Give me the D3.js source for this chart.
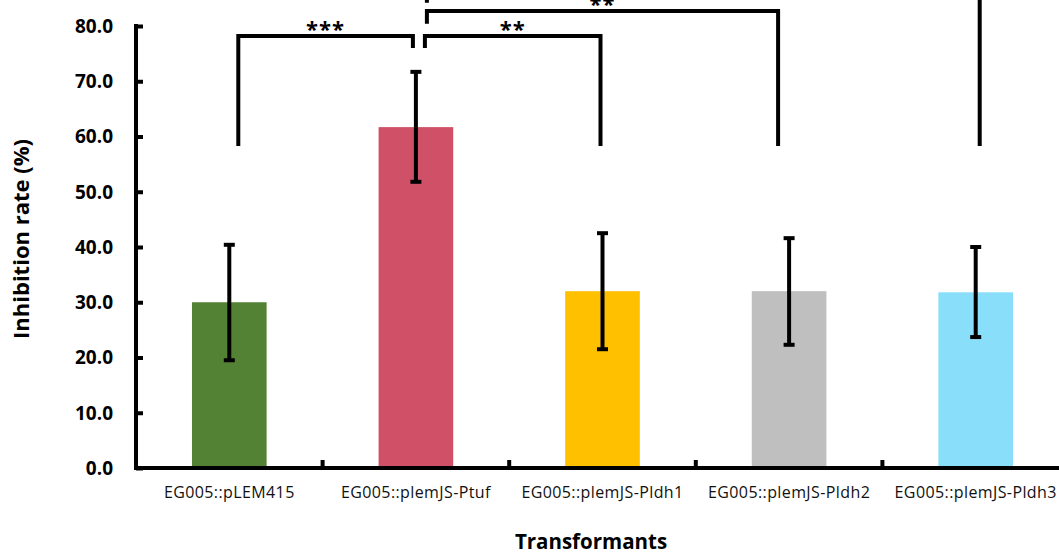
<!DOCTYPE html>
<html>
<head>
<meta charset="utf-8">
<script src="https://cdn.jsdelivr.net/npm/d3@7"></script>
<style>
  body { margin: 0; background: #fff; }
  svg { display: block; font-family: "Open Sans", "Noto Sans", sans-serif; }
</style>
</head>
<body>
<div id="chart"></div>
<script>
// data
const categories = ['EG005::pLEM415', 'EG005::plemJS-Ptuf', 'EG005::plemJS-Pldh1', 'EG005::plemJS-Pldh2', 'EG005::plemJS-Pldh3'];
const values = [30.0, 61.7, 32.0, 32.0, 31.8];
const errLow = [19.5, 51.8, 21.5, 22.3, 23.7];
const errHigh = [40.4, 71.7, 42.5, 41.6, 40.0];
const barColors = ['#548235', '#d05167', '#ffc000', '#bfbfbf', '#89def9'];
const yTicks = [0, 10, 20, 30, 40, 50, 60, 70, 80];

// significance brackets: from/to category index, bar level, leg ends, label
const brackets = [
	{ from: 0, to: 1, level: 78.2, legFrom: 58.3, legTo: 76.0, dxFrom: 9, dxTo: -3, label: '***' },
	{ from: 1, to: 2, level: 78.2, legFrom: 76.0, legTo: 58.3, dxFrom: 9, dxTo: -2, label: '**' },
	{ from: 1, to: 3, level: 82.7, legFrom: 80.4, legTo: 58.3, dxFrom: 11, dxTo: -11, label: '**' },
	{ from: 1, to: 4, level: 87.2, legFrom: 84.2, legTo: 58.3, dxFrom: 11, dxTo: 4, label: '**' }
];

const width = 1059, height = 554;
const margin = { left: 136, right: -10, top: 26, bottom: 86 };

const svg = d3.select('#chart').append('svg')
	.attr('width', width)
	.attr('height', height);

const x = d3.scaleBand()
	.domain(categories)
	.range([margin.left, width - margin.right])
	.paddingInner(0)
	.paddingOuter(0);

const y = d3.scaleLinear()
	.domain([0, 80])
	.range([height - margin.bottom, margin.top]);

const barW = x.bandwidth() * 0.4;
const cx = i => x(categories[i]) + x.bandwidth() / 2;

// bars
svg.selectAll('rect.bar')
	.data(values)
	.enter().append('rect')
	.attr('class', 'bar')
	.attr('x', (d, i) => cx(i) - barW / 2)
	.attr('y', d => y(d))
	.attr('width', barW)
	.attr('height', d => y(0) - y(d))
	.attr('fill', (d, i) => barColors[i]);

// error bars
const capW = 11;
const err = svg.append('g').attr('stroke', '#000').attr('stroke-width', 4);
values.forEach((v, i) => {
	err.append('line')
		.attr('x1', cx(i)).attr('x2', cx(i))
		.attr('y1', y(errLow[i])).attr('y2', y(errHigh[i]));
	[errLow[i], errHigh[i]].forEach(e => {
		err.append('line')
			.attr('x1', cx(i) - capW / 2).attr('x2', cx(i) + capW / 2)
			.attr('y1', y(e)).attr('y2', y(e));
	});
});

// y axis
const yAxis = svg.append('g')
	.attr('transform', `translate(${margin.left},0)`)
	.call(d3.axisRight(y).tickValues(yTicks).tickSize(7).tickFormat(''));
yAxis.select('.domain').remove();
yAxis.selectAll('line').attr('stroke', '#000').attr('stroke-width', 4);
svg.append('line')
	.attr('x1', margin.left).attr('x2', margin.left)
	.attr('y1', y(80) - 2).attr('y2', y(0) + 2)
	.attr('stroke', '#000').attr('stroke-width', 4);

svg.selectAll('text.ytick')
	.data(yTicks)
	.enter().append('text')
	.attr('class', 'ytick')
	.attr('x', 113)
	.attr('y', d => y(d))
	.attr('dy', '0.36em')
	.attr('text-anchor', 'end')
	.attr('font-size', 19)
	.attr('font-weight', 'bold')
	.text(d => d.toFixed(1));

// x axis
const xAxis = svg.append('g')
	.attr('transform', `translate(0,${y(0)})`);
xAxis.append('line')
	.attr('x1', margin.left - 2).attr('x2', width)
	.attr('y1', 0).attr('y2', 0)
	.attr('stroke', '#000').attr('stroke-width', 4);
xAxis.selectAll('line.xtick')
	.data(categories.slice(1))
	.enter().append('line')
	.attr('class', 'xtick')
	.attr('x1', d => x(d)).attr('x2', d => x(d))
	.attr('y1', 0).attr('y2', -8)
	.attr('stroke', '#000').attr('stroke-width', 4);

svg.selectAll('text.xlab')
	.data(categories)
	.enter().append('text')
	.attr('class', 'xlab')
	.attr('x', (d, i) => cx(i))
	.attr('y', 498)
	.attr('text-anchor', 'middle')
	.attr('font-size', 16)
	.attr('letter-spacing', 0.4)
	.attr('fill', '#111')
	.text(d => d);

// axis titles
svg.append('text')
	.attr('x', 591)
	.attr('y', 549)
	.attr('text-anchor', 'middle')
	.attr('font-size', 20.5)
	.attr('font-weight', 'bold')
	.text('Transformants');

svg.append('text')
	.attr('transform', `translate(29,239) rotate(-90)`)
	.attr('text-anchor', 'middle')
	.attr('font-size', 22)
	.attr('font-weight', 'bold')
	.text('Inhibition rate (%)');

// significance brackets
const br = svg.append('g');
brackets.forEach(b => {
	const x1 = cx(b.from) + b.dxFrom;
	const x2 = cx(b.to) + b.dxTo;
	const path = d3.path();
	path.moveTo(x1, y(b.legFrom));
	path.lineTo(x1, y(b.level));
	path.lineTo(x2, y(b.level));
	path.lineTo(x2, y(b.legTo));
	br.append('path')
		.attr('d', path.toString())
		.attr('fill', 'none')
		.attr('stroke', '#000')
		.attr('stroke-width', 4)
		.attr('stroke-linejoin', 'miter');
	br.append('text')
		.attr('x', (x1 + x2) / 2)
		.attr('y', y(b.level) + 1)
		.attr('text-anchor', 'middle')
		.attr('font-size', 22)
		.attr('font-weight', 'bold')
		.attr('letter-spacing', 1)
		.text(b.label);
});
</script>
</body>
</html>
